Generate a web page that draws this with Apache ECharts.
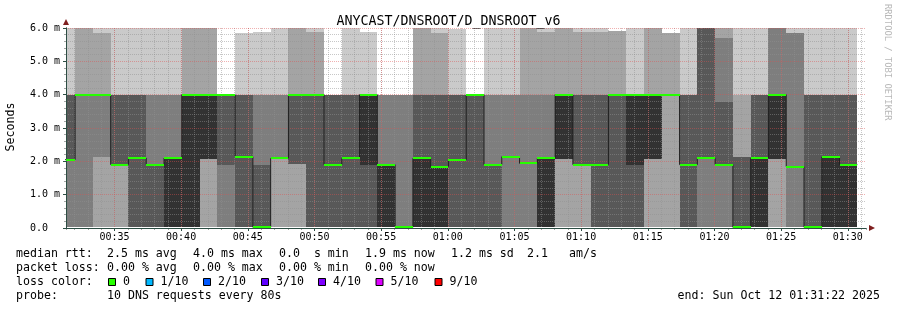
<!DOCTYPE html>
<html><head><meta charset="utf-8">
<script src="https://cdn.jsdelivr.net/npm/echarts@6/dist/echarts.min.js"></script>
<style>html,body{margin:0;padding:0;background:#fff}#c{width:897px;height:310px}</style>
</head><body><div id="c"></div>
<script>
// ---- data ----
const STEP_SECONDS = 80;
const rangeStart = '00:31:22';
const rangeEnd = '01:31:22';
const Z = 0.02; // "zero" rtt values (ms)
// end time of each 80 s step
const stepEnds = ['00:32:03','00:33:23','00:34:43','00:36:03','00:37:23','00:38:43','00:40:03','00:41:23','00:42:43','00:44:03',
  '00:45:23','00:46:43','00:48:03','00:49:23','00:50:43','00:52:03','00:53:23','00:54:43','00:56:03','00:57:23',
  '00:58:43','01:00:03','01:01:23','01:02:43','01:04:03','01:05:23','01:06:43','01:08:03','01:09:23','01:10:43',
  '01:12:03','01:13:23','01:14:43','01:16:03','01:17:23','01:18:43','01:20:03','01:21:23','01:22:43','01:24:03',
  '01:25:23','01:26:43','01:28:03','01:29:23','01:30:43'];
// the 10 sorted ping rtts (ms) of each step
const pings = [
  [Z,Z,Z,2.05,2.05,2.05,4,4,4,6],
  [Z,Z,Z,4,4,4,4,4,6,6],
  [Z,Z,2.14,4,4,4,4,4,5.85,6],
  [Z,Z,1.9,1.9,1.9,1.9,4,4,4,6],
  [Z,Z,Z,Z,2.1,2.1,4,4,4,6],
  [Z,Z,Z,Z,1.9,1.9,1.9,4,4,6],
  [Z,Z,Z,Z,Z,2.1,2.1,4,4,6],
  [Z,Z,Z,Z,Z,4,4,4,6,6],
  [Z,Z,2.07,2.07,2.07,4,4,4,6,6],
  [Z,Z,Z,1.9,4,4,4,4,4,4],
  [Z,Z,Z,Z,2.14,2.14,4,4,4,5.85],
  [Z,Z,Z,Z,Z,Z,1.89,4,4,5.88],
  [Z,Z,2.09,2.09,2.09,2.09,2.09,4,4,6],
  [Z,Z,1.92,1.92,4,4,4,4,6,6],
  [Z,Z,Z,Z,4,4,4,4,5.88,6],
  [Z,Z,Z,Z,1.9,1.9,4,4,4,4],
  [Z,Z,Z,Z,2.09,2.09,4,4,4,6],
  [Z,Z,Z,Z,1.89,4,4,4,4,5.88],
  [Z,Z,Z,Z,Z,1.9,1.9,4,4,4],
  [Z,Z,Z,Z,Z,Z,Z,4,4,4],
  [Z,Z,Z,Z,Z,2.09,4,4,6,6],
  [Z,Z,Z,Z,Z,1.84,4,4,5.85,6],
  [Z,Z,Z,Z,2.05,2.05,4,4,4,5.96],
  [Z,Z,Z,Z,4,4,4,4,4,4],
  [Z,Z,Z,Z,1.9,1.9,1.9,4,4,6],
  [Z,Z,Z,2.14,2.14,2.14,2.14,4,4,6],
  [Z,Z,Z,1.94,1.94,1.94,1.94,4,6,6],
  [Z,Z,Z,Z,Z,2.1,2.1,4,5.88,6],
  [Z,Z,2.07,2.07,2.07,4,4,4,6,6],
  [Z,Z,1.9,1.9,1.9,1.9,4,4,5.88,6],
  [Z,Z,Z,Z,1.9,1.9,4,4,5.88,6],
  [Z,Z,Z,Z,4,4,4,4,5.9,5.9],
  [Z,Z,Z,Z,1.9,4,4,4,4,6],
  [Z,Z,2.07,2.07,2.07,4,4,4,6,6],
  [Z,Z,4,4,4,4,4,4,5.85,5.85],
  [Z,Z,Z,Z,1.9,1.9,4,4,4,6],
  [Z,Z,Z,2.09,2.09,2.09,6,6,6,6],
  [Z,Z,Z,1.9,1.9,1.9,3.79,5.7,6,6],
  [Z,Z,Z,Z,Z,Z,2.14,2.14,4,6],
  [Z,Z,Z,Z,Z,2.09,4,4,4,6],
  [Z,Z,2.07,2.07,2.07,4,4,6,6,6],
  [Z,Z,Z,1.84,1.84,1.84,1.84,5.85,5.85,6],
  [Z,Z,Z,Z,Z,Z,4,4,4,6],
  [Z,Z,Z,Z,Z,2.14,4,4,4,6],
  [Z,Z,Z,Z,Z,1.9,4,4,4,6]
];
// median rtt (ms) of each step
const medians = [2.05,4,4,1.9,2.1,1.9,2.1,4,4,4,
  2.14,Z,2.09,4,4,1.9,2.09,4,1.9,Z,
  2.09,1.84,2.05,4,1.9,2.14,1.94,2.1,4,1.9,
  1.9,4,4,4,4,1.9,2.09,1.9,Z,2.09,
  4,1.84,Z,2.14,1.9];
const yMin = 0, yMax = 6, yStep = 1;
const legendRows = [
  ['median rtt:', '2.5 ms avg', '4.0 ms max', '0.0  s min', '1.9 ms now', '1.2 ms sd', '2.1', 'am/s'],
  ['packet loss:', '0.00 % avg', '0.00 % max', '0.00 % min', '0.00 % now']
];
const lossLabels = ['0', '1/10', '2/10', '3/10', '4/10', '5/10', '9/10'];
const lossColors = ['#26ff00', '#00b8ff', '#0059ff', '#5e00ff', '#7e00ff', '#dd00ff', '#ff0000'];
const probeText = '10 DNS requests every 80s';
const endText = 'end: Sun Oct 12 01:31:22 2025';
const titleText = 'ANYCAST/DNSROOT/D_DNSROOT_v6';

// ---- styling ----
const smokeGrays = ['#cacaca', '#a4a4a4', '#7e7e7e', '#585858', '#323232'];
const MONO = '"DejaVu Sans Mono", "Liberation Mono", monospace';
const gridMinor = 'rgba(143,143,143,0.5)';
const gridMajor = 'rgba(222,80,80,0.45)';
const axisCol = '#2c4d43';
const arrowCol = '#7f1f1f';

function ts(hms) { const [h, m, s] = hms.split(':').map(Number); return new Date(2025, 9, 12, h, m, s).getTime(); }
const xMin = ts(rangeStart), xMax = ts(rangeEnd);
const stepMs = STEP_SECONDS * 1000;

const seriesData = stepEnds.map((t, i) => [ts(t), medians[i]]);

function renderSmoke(params, api) {
  const i = params.dataIndex;
  const tEnd = api.value(0), tStart = tEnd - stepMs;
  const p = pings[i];
  const kids = [];
  for (let k = 0; k < 5; k++) {
    const lo = p[k], hi = p[9 - k];
    if (!(hi > lo)) continue;
    const a = api.coord([tStart, hi]), b = api.coord([tEnd, lo]);
    const x0 = Math.round(a[0]), x1 = Math.round(b[0]);
    const y0 = Math.round(a[1]), y1 = Math.round(b[1]);
    kids.push({ type: 'rect', shape: { x: x0, y: y0, width: x1 - x0, height: y1 - y0 }, style: { fill: smokeGrays[k] } });
  }
  return { type: 'group', children: kids };
}
function renderLoss(params, api) {
  const tEnd = api.value(0), tStart = tEnd - stepMs, m = api.value(1);
  const a = api.coord([tStart, m]), b = api.coord([tEnd, m]);
  const x0 = Math.round(a[0]), x1 = Math.round(b[0]), yc = Math.round(a[1]);
  return { type: 'rect', shape: { x: x0, y: yc - 1, width: x1 - x0, height: 2 }, style: { fill: lossColors[0] } };
}

const lineData = [[ts(stepEnds[0]) - stepMs, medians[0]]].concat(seriesData);

const txt = (x, y, text, extra) => Object.assign({ type: 'text', x: x, y: y, silent: true,
  style: Object.assign({ text: text, font: '11.6px ' + MONO, fill: '#000', verticalAlign: 'middle', align: 'left' }, extra || {}) });

const graphics = [];
const row1X = [16, 107, 193, 279, 365, 451, 527, 569];
legendRows[0].forEach((s, i) => graphics.push(txt(row1X[i], 254, s)));
const row2X = [16, 107, 193, 279, 365];
legendRows[1].forEach((s, i) => graphics.push(txt(row2X[i], 268, s)));
graphics.push(txt(16, 282, 'loss color:'));
const boxX = [108.5, 146, 203.5, 261.5, 318.5, 376, 435];
lossLabels.forEach((s, i) => {
  graphics.push({ type: 'rect', silent: true, shape: { x: boxX[i], y: 278.5, width: 7, height: 7 }, style: { fill: lossColors[i], stroke: '#000', lineWidth: 1 } });
  graphics.push(txt(boxX[i] + 14.5, 282, s));
});
graphics.push(txt(16, 296, 'probe:'));
graphics.push(txt(107, 296, probeText));
graphics.push(txt(880, 296, endText, { align: 'right' }));
graphics.push({ type: 'text', x: 10.5, y: 127, rotation: Math.PI / 2, silent: true,
  style: { text: 'Seconds', font: '11.6px ' + MONO, fill: '#000', align: 'center', verticalAlign: 'middle' } });
graphics.push({ type: 'text', x: 887.5, y: 4, rotation: -Math.PI / 2, silent: true,
  style: { text: 'RRDTOOL / TOBI OETIKER', font: '8.8px ' + MONO, fill: '#b8b8b8', align: 'left', verticalAlign: 'middle' } });

const chart = echarts.init(document.getElementById('c'), null, { renderer: 'canvas' });
chart.setOption({
  animation: false,
  backgroundColor: '#fff',
  title: { text: titleText, left: 'center', top: 10, textStyle: { fontFamily: MONO, fontSize: 13.3, fontWeight: 'normal', color: '#000' } },
  grid: { left: 66, right: 31, top: 28, bottom: 82 },
  xAxis: [
    { type: 'time', min: xMin, max: xMax, position: 'bottom', z: 3,
      minInterval: 330000, maxInterval: 330000,
      axisLine: { show: true, lineStyle: { color: axisCol, width: 1 } },
      axisTick: { show: true, length: 3, lineStyle: { color: axisCol } },
      axisLabel: { formatter: '{HH}:{mm}', fontFamily: MONO, fontSize: 10, color: '#000', margin: 4, hideOverlap: false },
      splitLine: { show: true, showMinLine: false, showMaxLine: false, lineStyle: { color: gridMajor, type: [1, 1], width: 1 } } },
    { type: 'time', min: xMin, max: xMax, position: 'bottom', z: 2,
      minInterval: 60000, maxInterval: 60000,
      axisLine: { show: true, symbol: ['none', 'triangle'], symbolSize: [6, 6], symbolOffset: [0, 6], lineStyle: { color: arrowCol, width: 1 } },
      axisTick: { show: true, length: 2, lineStyle: { color: 'rgba(143,143,143,0.8)' } },
      axisLabel: { show: false },
      splitLine: { show: true, showMinLine: false, showMaxLine: false, lineStyle: { color: gridMinor, type: [1, 1], width: 1 } } }
  ],
  yAxis: [
    { type: 'value', min: yMin, max: yMax, interval: yStep, position: 'left', z: 3,
      axisLine: { show: true, lineStyle: { color: axisCol, width: 1 } },
      axisTick: { show: true, length: 3, lineStyle: { color: axisCol } },
      minorTick: { show: true, splitNumber: 5, length: 2, lineStyle: { color: 'rgba(143,143,143,0.8)' } },
      axisLabel: { formatter: v => v === 0 ? '0.0' : v.toFixed(1) + ' m', align: 'left', margin: 36, fontFamily: MONO, fontSize: 10, color: '#000' },
      splitLine: { show: true, lineStyle: { color: gridMajor, type: [1, 1], width: 1 } },
      minorSplitLine: { show: true, lineStyle: { color: gridMinor, type: [1, 1], width: 1 } } },
    { type: 'value', min: yMin, max: yMax, position: 'left', z: 2,
      axisLine: { show: true, symbol: ['none', 'triangle'], symbolSize: [6, 6], symbolOffset: [0, 6], lineStyle: { color: arrowCol, width: 1 } },
      axisTick: { show: false }, axisLabel: { show: false }, splitLine: { show: false } }
  ],
  series: [
    { type: 'custom', name: 'smoke', xAxisIndex: 0, yAxisIndex: 0, z: 1, clip: true, silent: true,
      renderItem: renderSmoke, encode: { x: 0, y: 1 }, data: seriesData },
    { type: 'line', name: 'median', xAxisIndex: 0, yAxisIndex: 0, z: 5, step: 'start', clip: true, silent: true,
      showSymbol: false, symbol: 'none', lineStyle: { color: '#202020', width: 1 }, data: lineData },
    { type: 'custom', name: 'loss', xAxisIndex: 0, yAxisIndex: 0, z: 6, clip: true, silent: true,
      renderItem: renderLoss, encode: { x: 0, y: 1 }, data: seriesData }
  ],
  graphic: graphics
});
</script>
</body></html>
